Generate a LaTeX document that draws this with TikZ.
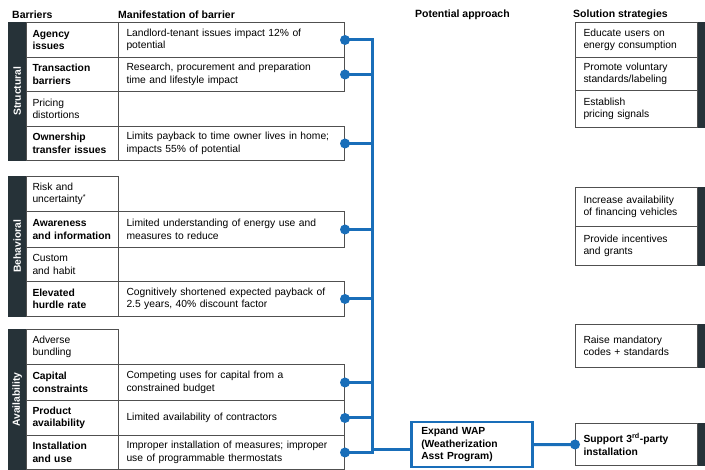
\documentclass[tikz,border=0pt]{standalone}
\usepackage{fontspec}
\usetikzlibrary{calc}
\setmainfont{Liberation Sans}
\definecolor{lineg}{RGB}{80,80,80}
\definecolor{slate}{RGB}{38,50,56}
\definecolor{wapblue}{RGB}{25,110,185}
\begin{document}
\begin{tikzpicture}[x=1pt,y=-1pt,
  cell/.style={draw=lineg, line width=1pt, fill=white, anchor=north west, align=left,
    inner ysep=0pt, font=\fontsize{10.3}{12.5}\selectfont},
  barcell/.style={cell, inner xsep=6pt, text width=80pt, minimum width=92pt},
  mancell/.style={cell, inner xsep=8pt, text width=210pt, minimum width=226pt},
  solcell/.style={cell, inner xsep=8pt, text width=106pt, minimum width=122pt},
  darkbar/.style={fill=slate, draw=slate, anchor=north west, inner sep=0pt, text=white,
    font=\fontsize{10.3}{12}\selectfont\bfseries},
  header/.style={anchor=west, inner sep=0pt, font=\fontsize{10.5}{12}\selectfont\bfseries},
  link/.style={draw=wapblue, line width=3pt},
  dot/.style={fill=wapblue}]
\useasboundingbox (0,0) rectangle (705,470);

% column headers
\node[header] (hBar) at (12,15) {Barriers};
\node[header] (hMan) at (118,15) {Manifestation of barrier};
\node[header] (hApp) at (415,15) {Potential approach};
\node[header] (hSol) at (573,15) {Solution strategies};

% ---- Structural ----
\node[darkbar, minimum width=18pt, minimum height=138pt] (sBar) at (8,22) {\rotatebox{90}{Structural}};
\node[barcell, minimum height=35pt] (bAgency) at (26,22) {\textbf{Agency}\\\textbf{issues}};
\node[mancell, minimum height=35pt] (mAgency) at (118,22) {Landlord-tenant issues impact 12\% of\\potential};
\node[barcell, minimum height=34pt] (bTrans) at (26,57) {\textbf{Transaction}\\\textbf{barriers}};
\node[mancell, minimum height=34pt] (mTrans) at (118,57) {Research, procurement and preparation\\time and lifestyle impact};
\node[barcell, minimum height=35pt] (bPrice) at (26,91) {Pricing\\distortions};
\node[barcell, minimum height=34pt] (bOwner) at (26,126) {\textbf{Ownership}\\\textbf{transfer issues}};
\node[mancell, minimum height=34pt] (mOwner) at (118,126) {Limits payback to time owner lives in home;\\impacts 55\% of potential};

% ---- Behavioral ----
\node[darkbar, minimum width=18pt, minimum height=140pt] (bhBar) at (8,176) {\rotatebox{90}{Behavioral}};
\node[barcell, minimum height=35pt] (bRisk) at (26,176) {Risk and\\uncertainty\textsuperscript{*}};
\node[barcell, minimum height=36pt] (bAware) at (26,211) {\textbf{Awareness}\\\textbf{and information}};
\node[mancell, minimum height=36pt] (mAware) at (118,211) {Limited understanding of energy use and\\measures to reduce};
\node[barcell, minimum height=34pt] (bCustom) at (26,247) {Custom\\and habit};
\node[barcell, minimum height=35pt] (bHurdle) at (26,281) {\textbf{Elevated}\\\textbf{hurdle rate}};
\node[mancell, minimum height=35pt] (mHurdle) at (118,281) {Cognitively shortened expected payback of\\2.5 years, 40\% discount factor};

% ---- Availability ----
\node[darkbar, minimum width=18pt, minimum height=141pt] (avBar) at (8,329) {\rotatebox{90}{Availability}};
\node[barcell, minimum height=35pt] (bAdverse) at (26,329) {Adverse\\bundling};
\node[barcell, minimum height=36pt] (bCapital) at (26,364) {\textbf{Capital}\\\textbf{constraints}};
\node[mancell, minimum height=36pt] (mCapital) at (118,364) {Competing uses for capital from a\\constrained budget};
\node[barcell, minimum height=35pt] (bProduct) at (26,400) {\textbf{Product}\\\textbf{availability}};
\node[mancell, minimum height=35pt] (mProduct) at (118,400) {Limited availability of contractors};
\node[barcell, minimum height=34pt] (bInstall) at (26,435) {\textbf{Installation}\\\textbf{and use}};
\node[mancell, minimum height=34pt] (mInstall) at (118,435) {Improper installation of measures; improper\\use of programmable thermostats};

% ---- Solution strategies ----
\node[darkbar, minimum width=16pt, minimum height=105pt] (infoBar) at (697,22) {};
\node[solcell, minimum height=35pt] (sEducate) at (575,22) {Educate users on\\energy consumption};
\node[solcell, minimum height=33pt] (sPromote) at (575,57) {Promote voluntary\\standards/labeling};
\node[solcell, minimum height=37pt] (sPricing) at (575,90) {Establish\\pricing signals};

\node[darkbar, minimum width=16pt, minimum height=78pt] (finBar) at (697,187) {};
\node[solcell, minimum height=39pt] (sFinance) at (575,187) {Increase availability\\of financing vehicles};
\node[solcell, minimum height=39pt] (sIncent) at (575,226) {Provide incentives\\and grants};

\node[darkbar, minimum width=16pt, minimum height=43pt] (codeBar) at (697,324) {};
\node[solcell, minimum height=43pt] (sCodes) at (575,324) {Raise mandatory\\codes + standards};

\node[darkbar, minimum width=16pt, minimum height=42pt] (supBar) at (697,423) {};
\node[solcell, minimum height=42pt] (sSupport) at (575,423) {\textbf{Support 3\textsuperscript{rd}-party}\\\textbf{installation}};

% ---- Potential approach ----
\node[cell, draw=wapblue, line width=2.5pt, inner xsep=10pt, text width=101pt, minimum width=121pt,
  minimum height=45pt] (wap) at (410,421) {\textbf{Expand WAP}\\\textbf{(Weatherization}\\\textbf{Asst Program)}};

% connectors
\coordinate (trunk) at (372,0);
\coordinate (wapIn) at ($(wap.west)+(0,5)$);
\foreach \m in {mAgency,mTrans,mOwner,mAware,mHurdle,mCapital,mProduct,mInstall}{
  \draw[link] (\m.east) -- (\m.east -| trunk);
}
\draw[link] ([yshift=1.5pt]mAgency.east -| trunk) -- ([yshift=-1.5pt]mInstall.east -| trunk);
\draw[link] (wapIn -| trunk) -- (wapIn);
\draw[link] (wap.east) -- (sSupport.west);
\foreach \m in {mAgency,mTrans,mOwner,mAware,mHurdle,mCapital,mProduct,mInstall}{
  \fill[dot] (\m.east) circle (5pt);
}
\fill[dot] (sSupport.west) circle (5pt);
\end{tikzpicture}
\end{document}
